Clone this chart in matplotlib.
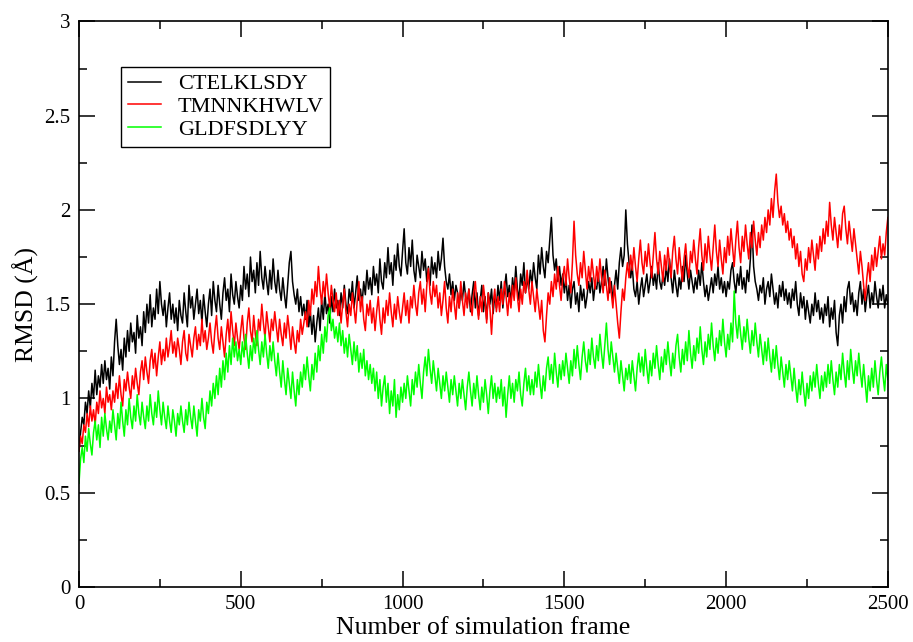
import numpy as np
import matplotlib
matplotlib.use("Agg")
import matplotlib.pyplot as plt
from matplotlib.ticker import MultipleLocator, FormatStrFormatter

plt.rcParams['font.family'] = ['Liberation Serif', 'DejaVu Serif']

# RMSD read every 5 frames, 20 values per 100 frames
step = 5

ctelklsdy = [
    0.72, 0.82, 0.90, 0.86, 0.98, 0.92, 1.04, 0.95, 1.08, 1.00, 1.15, 1.02, 1.12, 1.06, 1.18, 1.08, 1.20, 1.10, 1.16, 1.05,
    1.22, 1.12, 1.30, 1.42, 1.28, 1.18, 1.26, 1.15, 1.32, 1.22, 1.36, 1.25, 1.40, 1.30, 1.35, 1.24, 1.44, 1.32, 1.38, 1.28,
    1.46, 1.35, 1.50, 1.40, 1.55, 1.38, 1.48, 1.42, 1.58, 1.45, 1.62, 1.50, 1.44, 1.52, 1.38, 1.48, 1.56, 1.42, 1.50, 1.40,
    1.48, 1.36, 1.52, 1.44, 1.40, 1.56, 1.46, 1.38, 1.60, 1.48, 1.54, 1.42, 1.50, 1.58, 1.45, 1.52, 1.40, 1.55, 1.46, 1.38,
    1.50, 1.58, 1.44, 1.62, 1.52, 1.46, 1.60, 1.50, 1.42, 1.56, 1.64, 1.52, 1.58, 1.46, 1.66, 1.55, 1.50, 1.62, 1.54, 1.48,
    1.60, 1.52, 1.70, 1.58, 1.66, 1.54, 1.75, 1.62, 1.68, 1.56, 1.72, 1.60, 1.78, 1.64, 1.58, 1.70, 1.62, 1.55, 1.68, 1.58,
    1.74, 1.62, 1.56, 1.68, 1.58, 1.52, 1.64, 1.55, 1.48, 1.60, 1.72, 1.78, 1.62, 1.55, 1.50, 1.58, 1.46, 1.54, 1.44, 1.50,
    1.42, 1.52, 1.38, 1.46, 1.34, 1.44, 1.30, 1.40, 1.48, 1.36, 1.52, 1.42, 1.56, 1.45, 1.50, 1.40, 1.54, 1.46, 1.58, 1.48,
    1.52, 1.44, 1.56, 1.48, 1.60, 1.50, 1.45, 1.58, 1.52, 1.62, 1.48, 1.56, 1.65, 1.52, 1.58, 1.50, 1.62, 1.55, 1.68, 1.58,
    1.64, 1.55, 1.70, 1.60, 1.66, 1.56, 1.74, 1.62, 1.58, 1.72, 1.64, 1.80, 1.66, 1.72, 1.60, 1.76, 1.68, 1.82, 1.70, 1.65,
    1.78, 1.90, 1.72, 1.66, 1.80, 1.70, 1.84, 1.68, 1.62, 1.76, 1.70, 1.64, 1.78, 1.68, 1.74, 1.62, 1.70, 1.60, 1.75, 1.66,
    1.72, 1.64, 1.78, 1.68, 1.74, 1.85, 1.70, 1.62, 1.58, 1.66, 1.55, 1.62, 1.52, 1.60, 1.56, 1.48, 1.58, 1.52, 1.62, 1.54,
    1.50, 1.58, 1.46, 1.55, 1.62, 1.48, 1.56, 1.44, 1.52, 1.60, 1.46, 1.54, 1.42, 1.56, 1.50, 1.58, 1.45, 1.55, 1.48, 1.60,
    1.52, 1.62, 1.48, 1.58, 1.66, 1.54, 1.60, 1.50, 1.64, 1.56, 1.70, 1.58, 1.52, 1.66, 1.60, 1.72, 1.56, 1.64, 1.58, 1.68,
    1.60, 1.72, 1.64, 1.58, 1.76, 1.66, 1.80, 1.70, 1.64, 1.78, 1.72, 1.84, 1.96, 1.76, 1.68, 1.74, 1.62, 1.70, 1.60, 1.66,
    1.56, 1.64, 1.52, 1.60, 1.48, 1.58, 1.62, 1.50, 1.56, 1.46, 1.60, 1.52, 1.58, 1.48, 1.54, 1.62, 1.56, 1.64, 1.52, 1.60,
    1.58, 1.66, 1.56, 1.62, 1.70, 1.60, 1.74, 1.64, 1.56, 1.62, 1.52, 1.60, 1.68, 1.58, 1.72, 1.80, 1.70, 1.76, 2.00, 1.82,
    1.72, 1.64, 1.70, 1.58, 1.54, 1.62, 1.50, 1.58, 1.64, 1.54, 1.60, 1.66, 1.56, 1.62, 1.70, 1.60, 1.66, 1.58, 1.72, 1.62,
    1.58, 1.66, 1.60, 1.70, 1.62, 1.74, 1.64, 1.56, 1.68, 1.60, 1.54, 1.64, 1.58, 1.70, 1.62, 1.76, 1.66, 1.58, 1.68, 1.62,
    1.56, 1.64, 1.58, 1.68, 1.60, 1.72, 1.62, 1.54, 1.60, 1.52, 1.58, 1.64, 1.56, 1.66, 1.60, 1.70, 1.58, 1.64, 1.56, 1.62,
    1.54, 1.62, 1.58, 1.68, 1.72, 1.62, 1.56, 1.66, 1.60, 1.70, 1.58, 1.64, 1.56, 1.68, 1.62, 1.74, 1.92, 1.70, 1.62, 1.58,
    1.52, 1.60, 1.56, 1.64, 1.50, 1.58, 1.62, 1.54, 1.66, 1.58, 1.50, 1.56, 1.48, 1.60, 1.54, 1.62, 1.52, 1.58, 1.50, 1.56,
    1.48, 1.58, 1.52, 1.62, 1.50, 1.44, 1.56, 1.48, 1.54, 1.42, 1.52, 1.46, 1.40, 1.50, 1.44, 1.56, 1.46, 1.52, 1.42, 1.48,
    1.40, 1.50, 1.44, 1.54, 1.38, 1.48, 1.42, 1.52, 1.35, 1.28, 1.44, 1.50, 1.40, 1.54, 1.46, 1.58, 1.62, 1.50, 1.56, 1.46,
    1.52, 1.44, 1.56, 1.62, 1.50, 1.58, 1.46, 1.54, 1.60, 1.48, 1.56, 1.50, 1.62, 1.54, 1.48, 1.58, 1.52, 1.60, 1.48, 1.55,
    1.50,
]

tmnnkhwlv = [
    0.72, 0.80, 0.76, 0.86, 0.82, 0.92, 0.85, 0.96, 0.88, 0.94, 0.86, 0.98, 0.92, 1.04, 0.95, 1.00, 0.92, 1.06, 0.98, 1.02,
    0.94, 1.04, 0.98, 1.08, 1.00, 1.12, 1.02, 0.96, 1.10, 1.04, 1.14, 1.06, 1.00, 1.12, 1.05, 1.16, 1.08, 1.02, 1.14, 1.20,
    1.10, 1.22, 1.14, 1.08, 1.20, 1.26, 1.16, 1.24, 1.12, 1.22, 1.30, 1.18, 1.26, 1.20, 1.32, 1.22, 1.28, 1.36, 1.24, 1.30,
    1.22, 1.32, 1.26, 1.18, 1.30, 1.36, 1.24, 1.20, 1.34, 1.28, 1.22, 1.32, 1.38, 1.26, 1.34, 1.28, 1.42, 1.30, 1.36, 1.26,
    1.32, 1.40, 1.30, 1.24, 1.36, 1.44, 1.32, 1.26, 1.38, 1.30, 1.22, 1.34, 1.42, 1.30, 1.46, 1.36, 1.28, 1.40, 1.32, 1.26,
    1.36, 1.44, 1.32, 1.26, 1.40, 1.48, 1.36, 1.30, 1.44, 1.34, 1.28, 1.42, 1.36, 1.50, 1.40, 1.32, 1.46, 1.38, 1.30, 1.42,
    1.36, 1.46, 1.38, 1.30, 1.42, 1.34, 1.28, 1.40, 1.32, 1.44, 1.36, 1.26, 1.38, 1.30, 1.24, 1.36, 1.30, 1.42, 1.34, 1.40,
    1.46, 1.38, 1.52, 1.44, 1.58, 1.50, 1.62, 1.54, 1.70, 1.58, 1.50, 1.62, 1.54, 1.66, 1.56, 1.48, 1.60, 1.52, 1.46, 1.56,
    1.44, 1.52, 1.40, 1.50, 1.58, 1.46, 1.38, 1.50, 1.44, 1.56, 1.48, 1.40, 1.52, 1.62, 1.46, 1.54, 1.42, 1.36, 1.50, 1.44,
    1.52, 1.40, 1.48, 1.36, 1.46, 1.54, 1.42, 1.34, 1.48, 1.40, 1.52, 1.44, 1.56, 1.46, 1.38, 1.50, 1.42, 1.54, 1.46, 1.40,
    1.48, 1.56, 1.44, 1.52, 1.40, 1.54, 1.48, 1.60, 1.50, 1.44, 1.56, 1.62, 1.50, 1.58, 1.46, 1.60, 1.69, 1.56, 1.50, 1.62,
    1.54, 1.60, 1.48, 1.56, 1.44, 1.52, 1.62, 1.48, 1.40, 1.54, 1.46, 1.58, 1.50, 1.42, 1.56, 1.48, 1.62, 1.52, 1.44, 1.56,
    1.48, 1.58, 1.50, 1.44, 1.56, 1.62, 1.50, 1.42, 1.54, 1.46, 1.60, 1.52, 1.40, 1.56, 1.48, 1.34, 1.50, 1.58, 1.46, 1.54,
    1.46, 1.58, 1.50, 1.62, 1.54, 1.44, 1.56, 1.48, 1.60, 1.52, 1.64, 1.54, 1.46, 1.58, 1.50, 1.62, 1.56, 1.68, 1.58, 1.50,
    1.62, 1.54, 1.46, 1.58, 1.50, 1.42, 1.52, 1.36, 1.30, 1.44, 1.56, 1.50, 1.62, 1.54, 1.66, 1.58, 1.70, 1.60, 1.52, 1.64,
    1.70, 1.60, 1.74, 1.64, 1.56, 1.72, 1.94, 1.76, 1.66, 1.60, 1.72, 1.64, 1.78, 1.68, 1.58, 1.70, 1.62, 1.74, 1.66, 1.58,
    1.70, 1.62, 1.74, 1.64, 1.56, 1.68, 1.60, 1.52, 1.64, 1.56, 1.48, 1.60, 1.50, 1.40, 1.32, 1.46, 1.58, 1.52, 1.64, 1.72,
    1.64, 1.76, 1.68, 1.80, 1.70, 1.62, 1.74, 1.84, 1.72, 1.66, 1.78, 1.70, 1.82, 1.72, 1.64, 1.76, 1.88, 1.74, 1.66, 1.78,
    1.70, 1.62, 1.76, 1.68, 1.80, 1.72, 1.64, 1.78, 1.86, 1.74, 1.66, 1.80, 1.70, 1.62, 1.74, 1.82, 1.70, 1.64, 1.78, 1.72,
    1.84, 1.74, 1.66, 1.80, 1.90, 1.76, 1.68, 1.82, 1.72, 1.86, 1.76, 1.68, 1.80, 1.92, 1.78, 1.70, 1.84, 1.74, 1.66, 1.80,
    1.72, 1.86, 1.76, 1.90, 1.80, 1.70, 1.84, 1.94, 1.80, 1.72, 1.86, 1.78, 1.92, 1.82, 1.74, 1.88, 1.80, 1.94, 1.84, 1.76,
    1.88, 1.80, 1.92, 1.84, 1.96, 1.88, 2.00, 1.92, 2.06, 1.96, 2.10, 2.19, 2.04, 1.96, 2.02, 1.92, 1.98, 1.88, 1.94, 1.84,
    1.90, 1.80, 1.86, 1.74, 1.82, 1.70, 1.78, 1.66, 1.62, 1.74, 1.68, 1.80, 1.72, 1.84, 1.76, 1.68, 1.82, 1.74, 1.86, 1.78,
    1.90, 1.82, 1.94, 1.86, 2.04, 1.92, 1.84, 1.96, 1.88, 1.80, 1.92, 1.84, 1.98, 2.02, 1.90, 1.82, 1.94, 1.86, 1.78, 1.90,
    1.82, 1.74, 1.66, 1.78, 1.70, 1.60, 1.52, 1.64, 1.72, 1.62, 1.76, 1.68, 1.80, 1.70, 1.78, 1.86, 1.74, 1.82, 1.76, 1.88,
    1.96,
]

gldfsdlyy = [
    0.55, 0.68, 0.74, 0.66, 0.80, 0.72, 0.84, 0.76, 0.70, 0.82, 0.88, 0.78, 0.86, 0.74, 0.90, 0.80, 0.92, 0.84, 0.78, 0.88,
    0.82, 0.94, 0.86, 0.78, 0.92, 0.84, 0.98, 0.88, 0.80, 0.94, 0.86, 1.00, 0.90, 0.84, 0.96, 0.88, 1.02, 0.92, 0.86, 0.98,
    0.90, 0.84, 0.96, 0.88, 1.02, 0.92, 0.86, 0.98, 0.90, 1.04, 0.94, 0.86, 0.98, 0.90, 0.84, 0.96, 0.88, 0.82, 0.94, 0.88,
    0.80, 0.92, 0.86, 0.96, 0.88, 0.82, 0.94, 0.86, 0.98, 0.90, 0.84, 0.96, 0.88, 0.80, 0.94, 0.88, 1.00, 0.90, 0.84, 0.98,
    0.92, 1.04, 0.96, 1.08, 1.00, 1.12, 1.02, 1.16, 1.06, 1.20, 1.10, 1.24, 1.14, 1.28, 1.18, 1.32, 1.22, 1.30, 1.20, 1.26,
    1.18, 1.30, 1.22, 1.34, 1.24, 1.16, 1.28, 1.20, 1.32, 1.24, 1.36, 1.26, 1.18, 1.30, 1.22, 1.34, 1.24, 1.16, 1.28, 1.20,
    1.30, 1.20, 1.12, 1.24, 1.14, 1.06, 1.20, 1.10, 1.02, 1.16, 1.08, 1.00, 1.14, 1.04, 0.96, 1.10, 1.02, 1.14, 1.06, 1.18,
    1.10, 1.22, 1.12, 1.04, 1.18, 1.10, 1.24, 1.14, 1.28, 1.20, 1.34, 1.24, 1.38, 1.30, 1.44, 1.48, 1.36, 1.42, 1.32, 1.38,
    1.30, 1.40, 1.28, 1.36, 1.24, 1.32, 1.22, 1.34, 1.26, 1.18, 1.30, 1.20, 1.28, 1.14, 1.24, 1.16, 1.26, 1.12, 1.20, 1.10,
    1.18, 1.08, 1.16, 1.04, 1.14, 1.00, 1.10, 0.96, 1.06, 1.12, 0.98, 1.08, 0.92, 1.04, 0.96, 1.10, 0.90, 1.02, 0.94, 1.06,
    0.98, 1.08, 1.00, 1.12, 1.04, 0.96, 1.10, 1.02, 1.14, 1.06, 1.18, 1.08, 1.00, 1.14, 1.22, 1.12, 1.26, 1.16, 1.08, 1.20,
    1.12, 1.04, 1.16, 1.08, 1.00, 1.12, 1.04, 1.14, 1.06, 0.98, 1.10, 1.02, 1.12, 1.04, 0.96, 1.08, 1.00, 1.10, 1.02, 0.94,
    1.06, 1.14, 1.04, 0.96, 1.08, 1.00, 1.12, 1.02, 0.94, 1.06, 0.98, 1.10, 1.02, 0.92, 1.04, 1.12, 1.00, 1.08, 0.98, 1.06,
    1.00, 1.10, 0.96, 1.06, 0.90, 1.02, 1.12, 1.00, 1.08, 0.98, 1.10, 1.04, 1.14, 1.02, 0.96, 1.08, 1.16, 1.04, 1.12, 1.02,
    1.10, 1.02, 1.14, 1.06, 1.18, 1.08, 1.00, 1.12, 1.04, 1.16, 1.22, 1.10, 1.18, 1.08, 1.24, 1.14, 1.06, 1.18, 1.10, 1.20,
    1.12, 1.24, 1.16, 1.08, 1.20, 1.12, 1.26, 1.16, 1.28, 1.18, 1.10, 1.22, 1.30, 1.20, 1.14, 1.26, 1.18, 1.32, 1.22, 1.16,
    1.28, 1.20, 1.34, 1.24, 1.16, 1.28, 1.40, 1.26, 1.18, 1.30, 1.22, 1.14, 1.24, 1.16, 1.08, 1.20, 1.12, 1.04, 1.16, 1.10,
    1.18, 1.08, 1.20, 1.12, 1.04, 1.16, 1.24, 1.14, 1.22, 1.12, 1.26, 1.16, 1.08, 1.20, 1.12, 1.24, 1.16, 1.28, 1.18, 1.10,
    1.22, 1.14, 1.26, 1.18, 1.30, 1.20, 1.12, 1.24, 1.16, 1.28, 1.34, 1.22, 1.14, 1.26, 1.18, 1.30, 1.20, 1.36, 1.24, 1.16,
    1.28, 1.20, 1.32, 1.24, 1.38, 1.26, 1.18, 1.30, 1.22, 1.34, 1.26, 1.40, 1.28, 1.20, 1.32, 1.24, 1.36, 1.28, 1.42, 1.30,
    1.22, 1.34, 1.26, 1.40, 1.30, 1.57, 1.40, 1.32, 1.44, 1.34, 1.26, 1.38, 1.30, 1.42, 1.32, 1.24, 1.36, 1.28, 1.40, 1.30,
    1.22, 1.34, 1.26, 1.18, 1.30, 1.20, 1.32, 1.22, 1.14, 1.26, 1.16, 1.28, 1.18, 1.10, 1.22, 1.14, 1.06, 1.18, 1.10, 1.20,
    1.12, 1.04, 1.16, 1.06, 0.98, 1.10, 1.02, 1.14, 1.04, 0.96, 1.08, 1.00, 1.12, 1.04, 1.14, 1.06, 1.18, 1.08, 1.00, 1.12,
    1.04, 1.14, 1.06, 1.18, 1.08, 1.20, 1.10, 1.02, 1.14, 1.06, 1.18, 1.10, 1.24, 1.14, 1.06, 1.20, 1.10, 1.26, 1.16, 1.08,
    1.20, 1.12, 1.24, 1.14, 1.06, 1.18, 1.08, 0.98, 1.12, 1.04, 1.16, 1.06, 1.20, 1.10, 1.02, 1.14, 1.22, 1.12, 1.04, 1.18,
    1.10,
]

series = [
    (ctelklsdy, 'black', 'CTELKLSDY'),
    (tmnnkhwlv, '#ff0000', 'TMNNKHWLV'),
    (gldfsdlyy, '#00ff00', 'GLDFSDLYY'),
]

fig = plt.figure(figsize=(9.13, 6.42), dpi=100)
ax = fig.add_axes([0.0865, 0.0857, 0.886, 0.881])

for vals, col, name in series:
    frames = np.arange(len(vals)) * step
    ax.plot(frames, vals, color=col, lw=1.1, label=name)

ax.set_xlim(0, 2500)
ax.set_ylim(0, 3)
ax.xaxis.set_major_locator(MultipleLocator(500))
ax.xaxis.set_minor_locator(MultipleLocator(250))
ax.yaxis.set_major_locator(MultipleLocator(0.5))
ax.yaxis.set_minor_locator(MultipleLocator(0.25))
ax.yaxis.set_major_formatter(FormatStrFormatter('%g'))

ax.tick_params(which='both', direction='in', top=True, right=True, width=1.1)
ax.tick_params(which='major', length=11.5, labelsize=15, pad=6)
ax.tick_params(which='minor', length=5.8)
for s in ax.spines.values():
    s.set_linewidth(1.2)

ax.set_xlabel('Number of simulation frame', fontsize=18.5, labelpad=2)
ax.set_ylabel('RMSD (Å)', fontsize=18.5, labelpad=4)

leg = ax.legend(loc='upper left', bbox_to_anchor=(0.052, 0.919), borderaxespad=0,
                fontsize=16, fancybox=False, edgecolor='black', framealpha=1,
                handlelength=1.5, handletextpad=0.75, labelspacing=0.1, borderpad=0.3)
leg.get_frame().set_linewidth(1.0)

fig.savefig('out.png', dpi=100)
